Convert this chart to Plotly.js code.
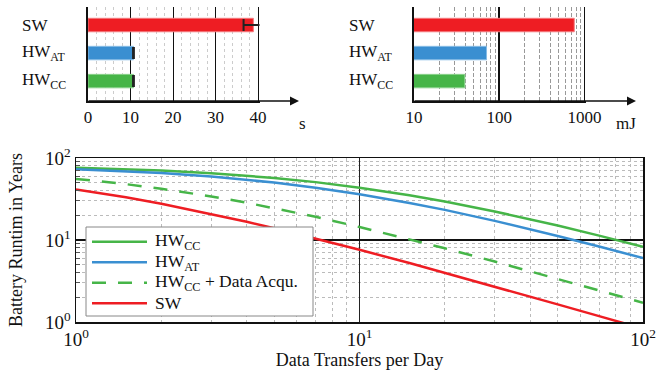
<!DOCTYPE html>
<html><head><meta charset="utf-8">
<script src="https://cdn.plot.ly/plotly-3.0.1.min.js"></script>
<style>html,body{margin:0;padding:0;background:#fff}#c{width:667px;height:374px}</style>
</head><body><div id="c"></div>
<script>
// ---- data ----
const categories = ['SW', 'HW<sub>AT</sub>', 'HW<sub>CC</sub>'];
const timeSec = [38.9, 10.7, 10.7];
const timeErrPlus = [2.0, 0.1, 0.1];
const timeErrMinus = [2.3, 0.1, 0.1];
const energyMJ = [760, 71, 39.5];
const timeTicks = [0, 10, 20, 30, 40];
const energyTicks = [10, 100, 1000];
const energyTickText = ['10', '100', '1000'];
const energyMinor = [20,30,40,50,60,70,80,90,200,300,400,500,600,700,800,900];

const transfers = [1, 1.5, 2, 3, 4, 5, 7, 10, 15, 20, 30, 40, 50, 70, 100];
const hwcc    = [76.0, 73.0, 70.2, 65.2, 60.9, 57.1, 50.8, 43.5, 35.2, 29.5, 22.3, 18.0, 15.0, 11.3, 8.26];
const hwat    = [72.7, 68.9, 65.4, 59.4, 54.4, 50.2, 43.5, 36.2, 28.3, 23.3, 17.1, 13.5, 11.2, 8.33, 6.02];
const hwccAcq = [55.6, 48.0, 42.2, 34.0, 28.5, 24.5, 19.2, 14.4, 10.2, 7.92, 5.46, 4.16, 3.36, 2.43, 1.72];
const sw      = [41.4, 33.2, 27.7, 20.8, 16.7, 13.9, 10.4, 7.6, 5.23, 3.98, 2.70, 2.04, 1.64, 1.18, 0.83];
const seriesNames = ['HW<sub>CC</sub>', 'HW<sub>AT</sub>', 'HW<sub>CC</sub> + Data Acqu.', 'SW'];
const logTicks = [1, 10, 100];
const logTickText = ['10<sup>0</sup>', '10<sup>1</sup>', '10<sup>2</sup>'];
const logMinor = [2,3,4,5,6,7,8,9,20,30,40,50,60,70,80,90];

// ---- style ----
const RED = '#EE1D23', BLUE = '#3A8FD1', GREEN = '#46B548';
const FONT = 'Liberation Serif';
const W = 667, H = 374;
const PX = p => p / W, PY = p => 1 - p / H;

const barColors = [RED, BLUE, GREEN];
const barLines = ['#F47A7E', '#86BCE6', '#8AD28C'];
const catIdx = categories.map((c, i) => i);

const traces = [
  {type: 'bar', orientation: 'h', x: timeSec, y: catIdx, xaxis: 'x', yaxis: 'y', width: 0.48,
   marker: {color: barColors, line: {color: barLines, width: 1}},
   error_x: {type: 'data', array: timeErrPlus, arrayminus: timeErrMinus, color: '#222', thickness: 2, width: 6},
   showlegend: false, hoverinfo: 'skip'},
  {type: 'bar', orientation: 'h', x: energyMJ, y: catIdx, xaxis: 'x2', yaxis: 'y2', width: 0.48,
   marker: {color: barColors, line: {color: barLines, width: 1}},
   showlegend: false, hoverinfo: 'skip'},
  {type: 'scatter', mode: 'lines', x: transfers, y: hwcc, xaxis: 'x3', yaxis: 'y3',
   line: {color: GREEN, width: 2.5}, showlegend: false},
  {type: 'scatter', mode: 'lines', x: transfers, y: hwat, xaxis: 'x3', yaxis: 'y3',
   line: {color: BLUE, width: 2.5}, showlegend: false},
  {type: 'scatter', mode: 'lines', x: transfers, y: hwccAcq, xaxis: 'x3', yaxis: 'y3',
   line: {color: GREEN, width: 2.5, dash: '14px,12px'}, showlegend: false},
  {type: 'scatter', mode: 'lines', x: transfers, y: sw, xaxis: 'x3', yaxis: 'y3',
   line: {color: RED, width: 2.5}, showlegend: false}
];

const topY = [PY(101), PY(7)];
const catRange = [2.71, -0.643];

const annotations = [];
categories.forEach((c, i) => {
  annotations.push({text: c, x: PX(20), xref: 'paper', xanchor: 'left', y: i, yref: 'y', showarrow: false,
    font: {family: FONT, size: 17, color: '#111'}});
  annotations.push({text: c, x: PX(347), xref: 'paper', xanchor: 'left', y: i, yref: 'y2', showarrow: false,
    font: {family: FONT, size: 17, color: '#111'}});
});
// axis arrows
annotations.push({text: '', x: PX(299), y: PY(101), xref: 'paper', yref: 'paper', ax: -212, ay: 0,
  axref: 'pixel', ayref: 'pixel', showarrow: true, arrowhead: 2, arrowsize: 1.2, arrowwidth: 1.5, arrowcolor: '#111', standoff: 0});
annotations.push({text: '', x: PX(636), y: PY(101), xref: 'paper', yref: 'paper', ax: -223, ay: 0,
  axref: 'pixel', ayref: 'pixel', showarrow: true, arrowhead: 2, arrowsize: 1.2, arrowwidth: 1.5, arrowcolor: '#111', standoff: 0});
annotations.push({text: 's', x: PX(302), y: PY(112), xref: 'paper', yref: 'paper', showarrow: false,
  font: {family: FONT, size: 17, color: '#111'}});
annotations.push({text: 'mJ', x: PX(638), y: PY(112), xref: 'paper', yref: 'paper', showarrow: false,
  font: {family: FONT, size: 17, color: '#111'}});

// custom legend
const legendColors = [GREEN, BLUE, GREEN, RED];
const legendDash = ['solid', 'solid', '14px,12px', 'solid'];
const legendY = [241.7, 262.3, 282.7, 303.3];
const shapes = [
  {type: 'rect', xref: 'paper', yref: 'paper', x0: PX(86), x1: PX(313), y0: PY(316), y1: PY(227),
   fillcolor: 'white', line: {color: '#888', width: 1}, layer: 'above'}
];
seriesNames.forEach((n, i) => {
  shapes.push({type: 'line', xref: 'paper', yref: 'paper', x0: PX(92), x1: PX(147), y0: PY(legendY[i]), y1: PY(legendY[i]),
    line: {color: legendColors[i], width: 2.5, dash: legendDash[i]}, layer: 'above'});
  annotations.push({text: n, x: PX(153), xref: 'paper', xanchor: 'left', y: PY(legendY[i]), yref: 'paper', yanchor: 'middle',
    showarrow: false, font: {family: FONT, size: 17.5, color: '#111'}});
});

const layout = {
  width: W, height: H, margin: {l: 0, r: 0, t: 0, b: 0},
  paper_bgcolor: '#fff', plot_bgcolor: 'rgba(0,0,0,0)',
  font: {family: FONT, color: '#111', size: 16},
  showlegend: false,
  xaxis: {domain: [PX(88), PX(259.5)], range: [0, 40.35], anchor: 'y', tickvals: timeTicks, ticks: '',
    showgrid: true, gridcolor: '#111', gridwidth: 1, zeroline: false, showline: true, linecolor: '#111', linewidth: 1.5,
    tickfont: {size: 17, family: FONT, color: '#111'},
    minor: {dtick: 2, showgrid: true, gridcolor: '#ccc', griddash: 'dot', gridwidth: 1}},
  yaxis: {domain: topY, range: catRange, anchor: 'x', type: 'linear', showticklabels: false, ticks: '',
    showgrid: false, zeroline: false, showline: true, linecolor: '#111', linewidth: 2.5},
  xaxis2: {domain: [PX(414), PX(585.5)], type: 'log', range: [1, 3.013], anchor: 'y2', tickvals: energyTicks,
    ticktext: energyTickText, ticks: '', showgrid: true, gridcolor: '#111', gridwidth: 1.5, zeroline: false,
    showline: true, linecolor: '#111', linewidth: 1.5, tickfont: {size: 17, family: FONT, color: '#111'},
    minor: {tickvals: energyMinor, showgrid: true, gridcolor: '#999', griddash: '4px,2px', gridwidth: 1}},
  yaxis2: {domain: topY, range: catRange, anchor: 'x2', type: 'linear', showticklabels: false, ticks: '',
    showgrid: false, zeroline: false, showline: true, linecolor: '#111', linewidth: 2.5},
  xaxis3: {domain: [PX(76), PX(643)], type: 'log', range: [0, 2], anchor: 'y3', tickvals: logTicks, ticktext: logTickText,
    ticks: '', showgrid: true, gridcolor: '#222', gridwidth: 1.5, zeroline: false, showline: true, mirror: true,
    linecolor: '#111', linewidth: 1.5, tickfont: {size: 19, family: FONT, color: '#111'},
    title: {text: 'Data Transfers per Day', font: {size: 18, family: FONT, color: '#111'}, standoff: 3},
    minor: {tickvals: logMinor, showgrid: true, gridcolor: '#bbb', griddash: 'dot', gridwidth: 1}},
  yaxis3: {domain: [PY(322), PY(158)], type: 'log', range: [0, 2], anchor: 'x3', tickvals: logTicks, ticktext: logTickText,
    ticks: '', showgrid: true, gridcolor: '#111', gridwidth: 1.2, zeroline: false, showline: true, mirror: true,
    linecolor: '#111', linewidth: 1.5, tickfont: {size: 19, family: FONT, color: '#111'},
    title: {text: 'Battery Runtim in Years', font: {size: 18, family: FONT, color: '#111'}, standoff: 17},
    minor: {tickvals: logMinor, showgrid: true, gridcolor: '#bbb', griddash: 'dot', gridwidth: 1,
      ticks: 'inside', ticklen: 4, tickcolor: '#555'}},
  annotations: annotations,
  shapes: shapes
};

Plotly.newPlot('c', traces, layout, {staticPlot: true, displayModeBar: false});
</script>
</body></html>
